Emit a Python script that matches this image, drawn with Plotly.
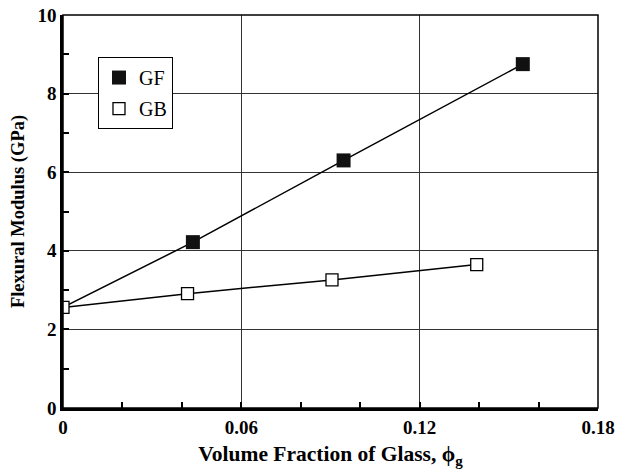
import plotly.graph_objects as go

# Data
x_gf = [0.0, 0.0437, 0.0944, 0.1547]
y_gf = [2.56, 4.22, 6.30, 8.75]
x_gb = [0.0, 0.0419, 0.0905, 0.1392]
y_gb = [2.56, 2.91, 3.26, 3.65]
x_tickvals = [0, 0.06, 0.12, 0.18]
x_ticktext = ["0", "0.06", "0.12", "0.18"]
y_tickvals = [0, 2, 4, 6, 8, 10]

FONT = "Liberation Serif"
fig = go.Figure()

# GF line (from shared origin) + markers
fig.add_trace(go.Scatter(x=x_gf, y=y_gf, mode="lines",
                         line=dict(color="black", width=1.5), showlegend=False, hoverinfo="skip"))
fig.add_trace(go.Scatter(x=x_gf[1:], y=y_gf[1:], mode="markers",
                         marker=dict(symbol="square", size=14, color="#111111"), showlegend=False))
# GB
fig.add_trace(go.Scatter(x=x_gb, y=y_gb, mode="lines+markers",
                         line=dict(color="black", width=1.5),
                         marker=dict(symbol="square", size=12, color="white",
                                     line=dict(color="black", width=1.3)),
                         showlegend=False))
# legend entries
fig.add_trace(go.Scatter(x=[None], y=[None], mode="markers", name="GF", legendgroup="a",
                         marker=dict(symbol="square", size=14, color="#111111")))
fig.add_trace(go.Scatter(x=[None], y=[None], mode="markers", name="GB", legendgroup="b",
                         marker=dict(symbol="square", size=12, color="white",
                                     line=dict(color="black", width=1.3))))

fig.update_layout(
    width=620, height=475,
    margin=dict(l=63, r=22, t=15, b=67),
    plot_bgcolor="white", paper_bgcolor="white",
    font=dict(family=FONT, color="black"),
    legend=dict(x=0.0654, y=0.893, xanchor="left", yanchor="top",
                bgcolor="white", bordercolor="black", borderwidth=1,
                font=dict(family=FONT, size=20), tracegroupgap=2,
                itemwidth=30),
    xaxis=dict(range=[0, 0.18], tickvals=x_tickvals, ticktext=x_ticktext,
               automargin=False,
               showgrid=True, gridcolor="#333333", gridwidth=1,
               showline=True, linecolor="black", linewidth=2.5,
               ticks="inside", ticklen=6, tickwidth=1.5, tickcolor="black",
               tickfont=dict(family=FONT, size=19, weight="bold"),
               minor=dict(dtick=0.02, ticks="inside", ticklen=6, tickwidth=1.5,
                          tickcolor="black", showgrid=False),
               zeroline=False,
               title=dict(text="Volume Fraction of Glass, ϕ<sub>g</sub>",
                          font=dict(family=FONT, size=21.5, weight="bold"), standoff=10)),
    yaxis=dict(range=[0, 10], tickvals=y_tickvals,
               automargin=False,
               showgrid=True, gridcolor="#333333", gridwidth=1,
               showline=True, linecolor="black", linewidth=2.5,
               ticks="inside", ticklen=6, tickwidth=1.5, tickcolor="black",
               tickfont=dict(family=FONT, size=19, weight="bold"),
               minor=dict(dtick=1, ticks="inside", ticklen=6, tickwidth=1.5,
                          tickcolor="black", showgrid=False),
               zeroline=False,
               title=dict(text="Flexural Modulus (GPa)",
                          font=dict(family=FONT, size=18.5, weight="bold"), standoff=8)),
    shapes=[dict(type="rect", xref="x domain", yref="y domain", x0=0, x1=1, y0=0, y1=1,
                 line=dict(color="black", width=1.5), layer="above")],
)

fig.write_html("out.html", config={"displayModeBar": False},
               post_script="document.body.style.margin='0';document.body.style.padding='0';")
